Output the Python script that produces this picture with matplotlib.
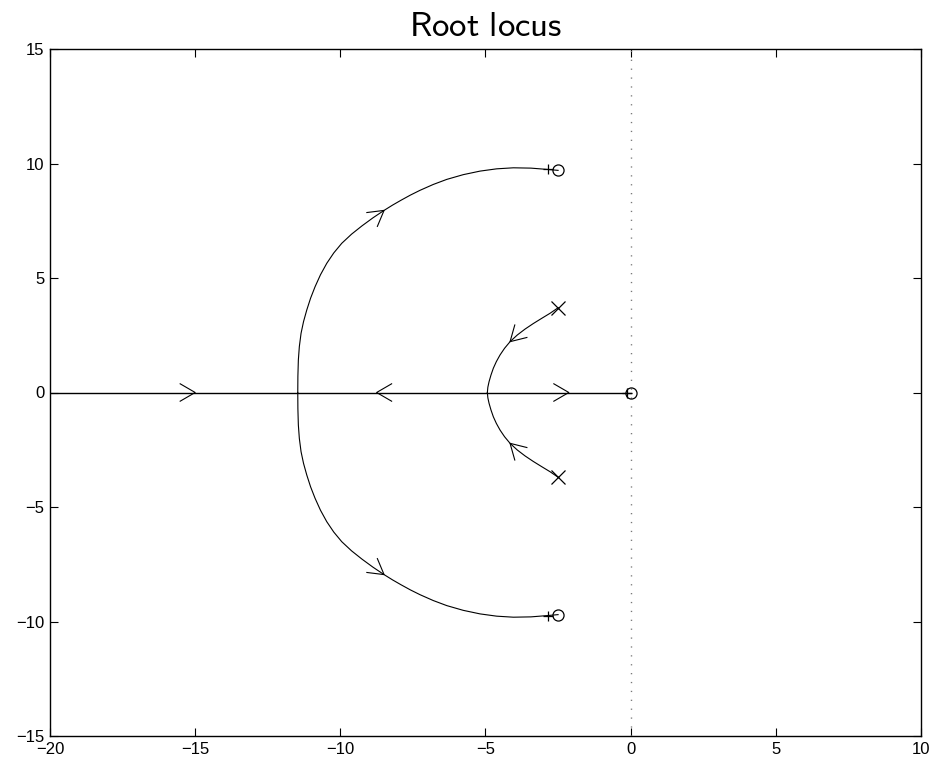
import numpy as np
import matplotlib.pyplot as plt

plt.rcParams['font.family'] = ['Liberation Sans', 'DejaVu Sans']
plt.rcParams['mathtext.fontset'] = 'cm'

# open-loop poles and zeros
pole_re = [-2.5, -2.5]
pole_im = [3.7, -3.7]
zero_re = [-2.5, -2.5, 0.0]
zero_im = [9.7, -9.7, 0.0]

# outer branch: breakaway on the real axis up to the complex zero
outer_re = [-11.466, -11.462, -11.446, -11.412, -11.353, -11.267, -11.156,
            -11.025, -10.870, -10.684, -10.467, -10.226, -9.951, -9.613,
            -9.252, -8.878, -8.494, -8.204, -7.908, -7.584, -7.254, -6.799,
            -6.334, -5.766, -5.187, -4.616, -4.040, -3.436, -2.835, -2.5]
outer_im = [0.0, 0.710, 1.419, 2.004, 2.585, 3.098, 3.603,
            4.117, 4.620, 5.141, 5.642, 6.095, 6.515, 6.915,
            7.279, 7.626, 7.952, 8.181, 8.397, 8.622, 8.830, 9.085,
            9.306, 9.513, 9.668, 9.767, 9.812, 9.798, 9.738, 9.7]

# inner branch: complex pole down to the break-in point
inner_re = [-2.5, -2.776, -3.062, -3.355, -3.637, -3.906, -4.154, -4.344,
            -4.499, -4.626, -4.730, -4.812, -4.878, -4.919, -4.936]
inner_im = [3.7, 3.46, 3.24, 3.01, 2.77, 2.51, 2.22, 1.93,
            1.64, 1.35, 1.06, 0.76, 0.47, 0.23, 0.0]

# real-axis branch
real_re = [-20.0, -11.466, -4.936, 0.0]
real_im = [0.0, 0.0, 0.0, 0.0]

# last computed gain points
end_re = [-2.835, -2.835, -0.13]
end_im = [9.738, -9.738, 0.0]

# direction arrows: tip and heading
arrow_re = [-15.0, -8.75, -2.13, -8.494, -8.494, -4.154, -4.154]
arrow_im = [0.0, 0.0, 0.0, 7.952, -7.952, 2.22, -2.22]
arrow_dre = [1.0, -1.0, 1.0, 0.0475, 0.0475, -0.0429, -0.0429]
arrow_dim = [0.0, 0.0, 0.0, 0.0457, -0.0457, -0.0527, 0.0527]

fig = plt.figure(figsize=(9.32, 7.64), dpi=100)
ax = fig.add_axes([50 / 932, 28 / 764, 871 / 932, 687 / 764])
ax.set_xlim(-20, 10)
ax.set_ylim(-15, 15)

lw = 0.8
ax.axvline(0, color='#777777', lw=1.0, linestyle=(0, (0.9, 5.5)))

ax.plot(real_re, real_im, color='black', lw=1.0)
ax.plot(outer_re, outer_im, color='black', lw=lw)
ax.plot(outer_re, [-v for v in outer_im], color='black', lw=lw)
ax.plot(inner_re, inner_im, color='black', lw=lw)
ax.plot(inner_re, [-v for v in inner_im], color='black', lw=lw)

ax.plot(pole_re, pole_im, 'x', color='black', ms=9.5, mew=0.9)
ax.plot(zero_re, zero_im, 'o', mfc='none', mec='black', ms=8, mew=0.9)
ax.plot(end_re, end_im, '+', color='black', ms=7.5, mew=0.9)

# chevrons drawn in pixel space so they keep their shape
to_px = ax.transData
to_data = ax.transData.inverted()
L, W = 15.0, 8.7
for x, y, dx, dy in zip(arrow_re, arrow_im, arrow_dre, arrow_dim):
    tip = to_px.transform((x, y))
    ahead = to_px.transform((x + dx, y + dy))
    u = (ahead - tip) / np.hypot(*(ahead - tip))
    n = np.array([-u[1], u[0]])
    a1 = tip - L * u + W * n
    a2 = tip - L * u - W * n
    pts = to_data.transform(np.array([a1, tip, a2]))
    ax.plot(pts[:, 0], pts[:, 1], color='black', lw=lw)

ax.set_xticks([-20, -15, -10, -5, 0, 5, 10])
ax.set_yticks([-15, -10, -5, 0, 5, 10, 15])
ax.tick_params(direction='in', length=6, width=0.8, top=True, right=True,
               labelsize=12, pad=4)
for s in ax.spines.values():
    s.set_linewidth(1.0)

ax.set_title(r'$\mathsf{Root\ locus}$', fontsize=25, pad=9)

fig.savefig('out.png', dpi=100)
